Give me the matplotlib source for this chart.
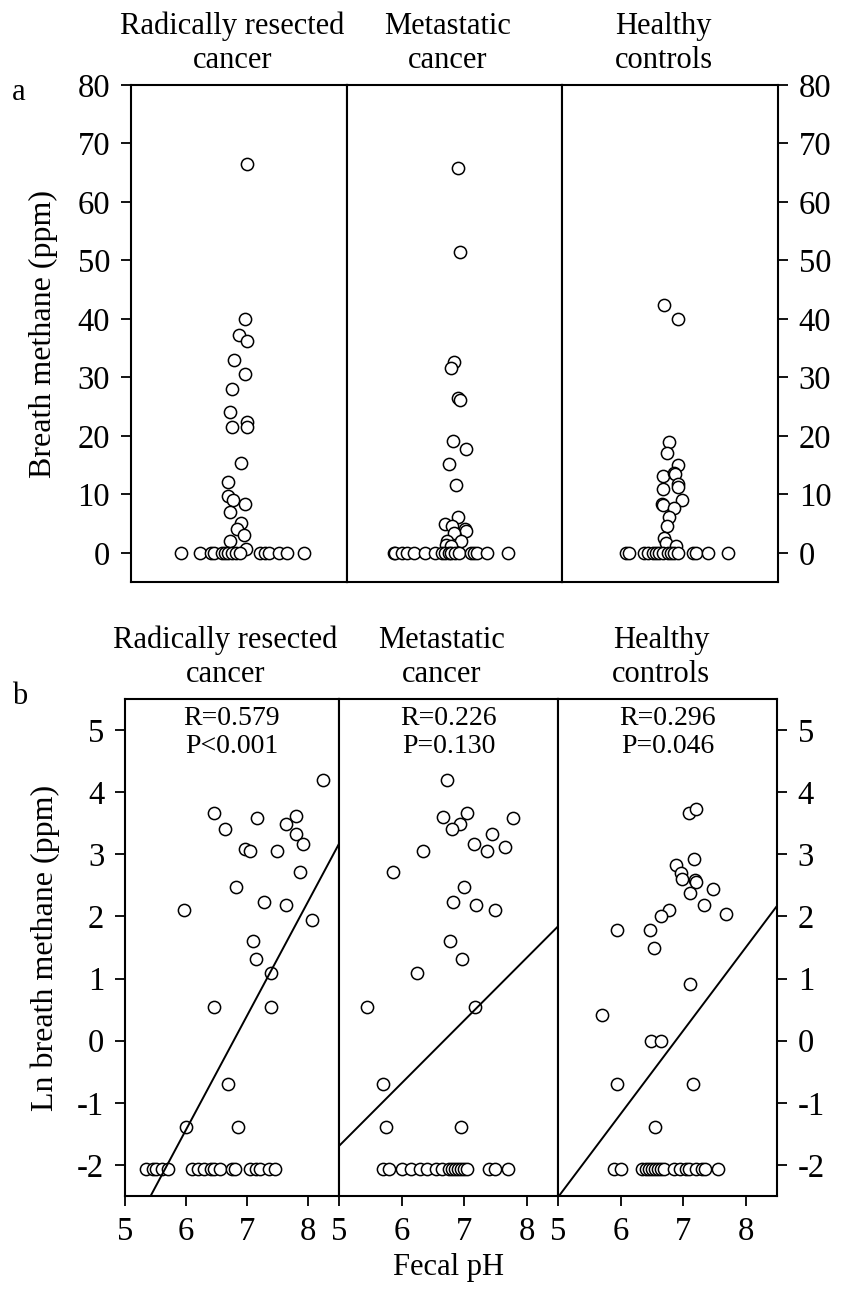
import numpy as np
import matplotlib
matplotlib.use("Agg")
import matplotlib.pyplot as plt

plt.rcParams['font.family'] = ['Liberation Serif', 'DejaVu Serif']
plt.rcParams['font.size'] = 22
plt.rcParams['axes.unicode_minus'] = False

groups = ["Radically resected\ncancer", "Metastatic\ncancer", "Healthy\ncontrols"]

###....... panel a: breath methane (ppm), x = position inside the column (0..1)
a1_x = [0.539, 0.529, 0.501, 0.539, 0.479, 0.529, 0.467, 0.459, 0.539, 0.539, 0.467,
        0.507, 0.448, 0.448, 0.470, 0.529, 0.459, 0.509, 0.490, 0.521, 0.459, 0.532,
        0.230, 0.320, 0.371, 0.386, 0.420, 0.436, 0.451, 0.467, 0.487, 0.505,
        0.598, 0.621, 0.637, 0.686, 0.722, 0.802]
a1_y = [66.5, 39.9, 37.3, 36.3, 33.0, 30.5, 28.0, 24.1, 22.4, 21.5, 21.5,
        15.4, 12.1, 9.7, 9.1, 8.4, 7.0, 5.1, 4.0, 3.1, 2.0, 0.6,
        0, 0, 0, 0, 0, 0, 0, 0, 0, 0,
        0, 0, 0, 0, 0, 0]

a2_x = [0.516, 0.524, 0.496, 0.485, 0.515, 0.524, 0.493, 0.555, 0.474, 0.507,
        0.516, 0.455, 0.490, 0.550, 0.555, 0.497, 0.467, 0.528, 0.460, 0.485,
        0.217, 0.225, 0.256, 0.279, 0.310, 0.364, 0.411, 0.442, 0.457, 0.473,
        0.485, 0.504, 0.519, 0.578, 0.589, 0.605, 0.651, 0.747]
a2_y = [65.8, 51.4, 32.6, 31.6, 26.5, 26.1, 19.1, 17.7, 15.1, 11.6,
        6.2, 5.0, 4.6, 4.1, 3.7, 3.3, 2.0, 2.0, 1.4, 1.1,
        0, 0, 0, 0, 0, 0, 0, 0, 0, 0,
        0, 0, 0, 0, 0, 0, 0, 0]

a3_x = [0.474, 0.536, 0.497, 0.484, 0.536, 0.466, 0.517, 0.525, 0.536, 0.539,
        0.466, 0.556, 0.463, 0.466, 0.517, 0.497, 0.484, 0.474, 0.481, 0.530,
        0.295, 0.311, 0.380, 0.396, 0.419, 0.435, 0.450, 0.466, 0.489, 0.505,
        0.520, 0.536, 0.606, 0.621, 0.675, 0.769]
a3_y = [42.3, 39.9, 18.9, 17.1, 15.0, 13.1, 13.7, 13.4, 11.8, 11.3,
        10.9, 9.0, 8.4, 8.1, 7.7, 6.2, 4.6, 2.6, 1.7, 1.1,
        0, 0, 0, 0, 0, 0, 0, 0, 0, 0,
        0, 0, 0, 0, 0, 0]

###....... panel b: ln breath methane vs fecal pH
b1_ph = [8.235, 6.45, 6.63, 7.16, 7.80, 7.64, 7.80, 7.91, 6.97, 7.04, 7.48, 7.86,
         6.81, 5.96, 7.27, 7.63, 8.06, 7.10, 7.15, 7.38, 6.46, 7.38, 6.68, 6.00, 6.85,
         5.35, 5.45, 5.50, 5.60, 5.70, 6.10, 6.20, 6.30, 6.40, 6.45, 6.55, 6.75,
         6.80, 7.05, 7.15, 7.20, 7.35, 7.45]
b1_ln = [4.19, 3.67, 3.41, 3.58, 3.61, 3.49, 3.32, 3.16, 3.09, 3.06, 3.06, 2.71,
         2.47, 2.10, 2.24, 2.18, 1.94, 1.60, 1.32, 1.09, 0.54, 0.54, -0.69, -1.39, -1.39,
         -2.07, -2.07, -2.07, -2.07, -2.07, -2.07, -2.07, -2.07, -2.07, -2.07, -2.07, -2.07,
         -2.07, -2.07, -2.07, -2.07, -2.07, -2.07]

b2_ph = [6.73, 6.66, 7.05, 6.94, 6.81, 7.78, 7.44, 7.16, 7.37, 7.65, 6.35, 5.87,
         7.00, 6.82, 7.19, 7.50, 6.78, 6.96, 6.24, 5.44, 7.18, 5.71, 5.75, 6.95,
         5.70, 5.80, 6.00, 6.15, 6.30, 6.40, 6.55, 6.65, 6.75, 6.80, 6.85, 6.90,
         6.95, 7.00, 7.05, 7.40, 7.50, 7.70]
b2_ln = [4.19, 3.60, 3.67, 3.49, 3.41, 3.59, 3.32, 3.16, 3.06, 3.11, 3.06, 2.71,
         2.47, 2.24, 2.18, 2.10, 1.60, 1.32, 1.09, 0.54, 0.54, -0.69, -1.39, -1.39,
         -2.07, -2.07, -2.07, -2.07, -2.07, -2.07, -2.07, -2.07, -2.07, -2.07, -2.07, -2.07,
         -2.07, -2.07, -2.07, -2.07, -2.07, -2.07]

b3_ph = [7.10, 7.21, 7.18, 6.89, 6.96, 6.98, 7.19, 7.21, 7.11, 7.48, 7.34, 7.69,
         6.78, 6.64, 5.94, 6.47, 6.54, 7.11, 5.71, 6.48, 6.65, 5.94, 7.16, 6.55,
         5.90, 6.00, 6.35, 6.40, 6.45, 6.50, 6.55, 6.60, 6.65, 6.70, 6.85, 6.95,
         7.05, 7.10, 7.20, 7.30, 7.35, 7.55]
b3_ln = [3.67, 3.73, 2.92, 2.83, 2.70, 2.60, 2.58, 2.55, 2.37, 2.44, 2.19, 2.04,
         2.10, 2.00, 1.78, 1.78, 1.49, 0.91, 0.41, -0.01, -0.01, -0.70, -0.70, -1.39,
         -2.07, -2.07, -2.07, -2.07, -2.07, -2.07, -2.07, -2.07, -2.07, -2.07, -2.07, -2.07,
         -2.07, -2.07, -2.07, -2.07, -2.07, -2.07]

# regression lines (slope, intercept) and stats
fit_slope = [1.84, 1.01, 1.34]
fit_icpt = [-12.47, -6.745, -9.22]
stats_txt = ["R=0.579\nP<0.001", "R=0.226\nP=0.130", "R=0.296\nP=0.046"]

W, H = 861, 1294
fig = plt.figure(figsize=(W/100, H/100), dpi=100)

def ax_px(l, t, r, b):
    return fig.add_axes([l/W, 1-b/H, (r-l)/W, (b-t)/H])

mk = dict(marker='o', ls='none', mfc='white', mec='black', ms=8.8, mew=1.1)
tfs = 23.5  # tick label size

###........ panel a
a_x = [a1_x, a2_x, a3_x]
a_y = [a1_y, a2_y, a3_y]
a_edges = [131, 347, 562, 778]
for i in range(3):
    ax = ax_px(a_edges[i], 85, a_edges[i+1], 582)
    ax.plot(a_x[i], a_y[i], **mk)
    ax.set_xlim(0, 1)
    ax.set_ylim(-5, 80)
    ax.set_xticks([])
    ax.set_yticks(np.arange(0, 81, 10))
    ax.tick_params(axis='y', direction='out', length=7, width=1.3, pad=8, labelsize=tfs,
                   left=(i == 0), labelleft=(i == 0),
                   right=(i == 2), labelright=(i == 2))
    for s in ax.spines.values():
        s.set_linewidth(1.5)
    ax.text(0.47, 1.02, groups[i], transform=ax.transAxes, ha='center', va='bottom',
            linespacing=1.25, fontsize=22)
    if i == 0:
        ax.set_ylabel("Breath methane (ppm)", labelpad=14, fontsize=23)

###........ panel b
b_x = [b1_ph, b2_ph, b3_ph]
b_y = [b1_ln, b2_ln, b3_ln]
b_edges = [125, 339, 558, 777]
xx = np.array([5, 8.5])
for i in range(3):
    ax = ax_px(b_edges[i], 699, b_edges[i+1], 1196)
    ax.plot(b_x[i], b_y[i], **mk)
    ax.plot(xx, fit_slope[i]*xx + fit_icpt[i], color='black', lw=1.4)
    ax.set_xlim(5, 8.5)
    ax.set_ylim(-2.5, 5.5)
    ax.set_xticks([5, 6, 7, 8])
    ax.set_yticks(np.arange(-2, 6, 1))
    ax.tick_params(axis='both', direction='out', length=7, width=1.3, pad=8, labelsize=tfs)
    ax.tick_params(axis='y', left=(i == 0), labelleft=(i == 0),
                   right=(i == 2), labelright=(i == 2))
    for s in ax.spines.values():
        s.set_linewidth(1.5)
    ax.text(0.47, 1.02, groups[i], transform=ax.transAxes, ha='center', va='bottom',
            linespacing=1.25, fontsize=22)
    ax.text(0.5, 0.985, stats_txt[i], transform=ax.transAxes, ha='center', va='top',
            linespacing=1.15, fontsize=20)
    if i == 0:
        ax.set_ylabel("Ln breath methane (ppm)", labelpad=12, fontsize=23)
    if i == 1:
        ax.set_xlabel("Fecal pH", labelpad=4, fontsize=22)

fig.text(12/W, 1-92/H, "a", fontsize=22, va='center')
fig.text(12/W, 1-697/H, "b", fontsize=22, va='center')

fig.savefig("out.png", dpi=100)
